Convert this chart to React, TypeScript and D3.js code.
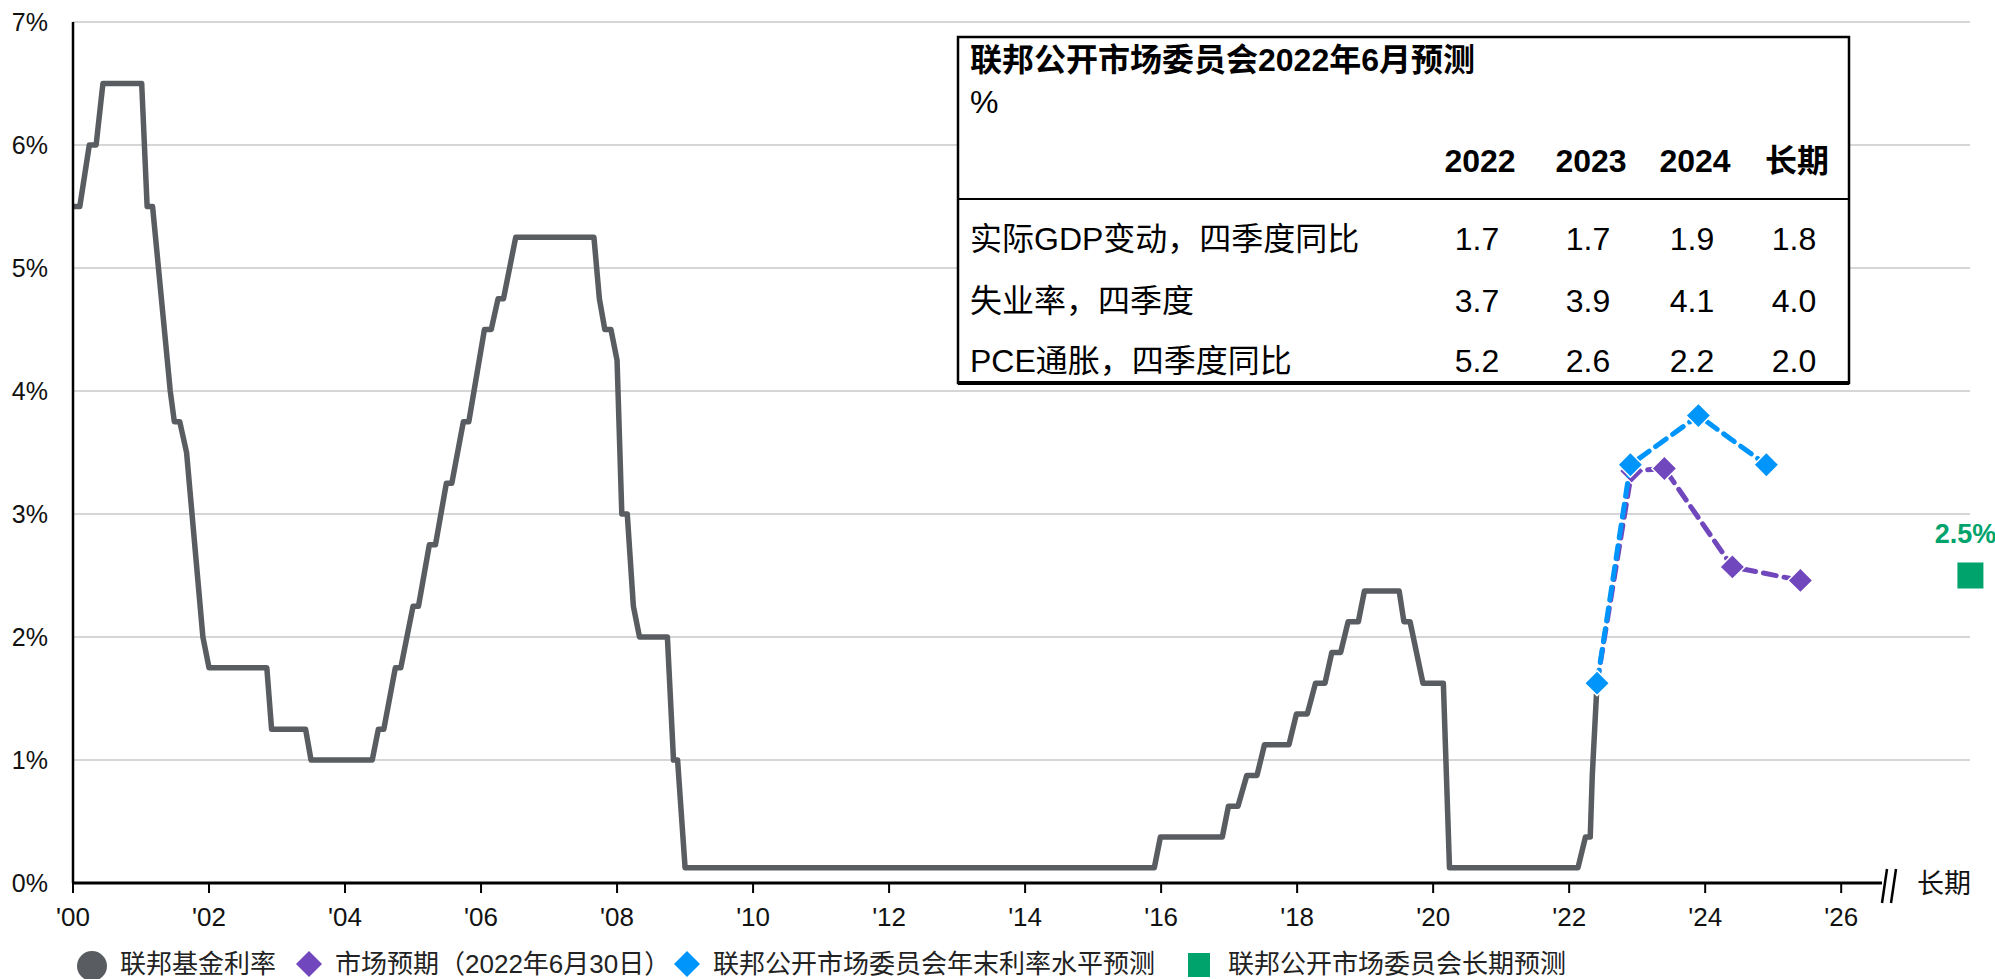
import { useEffect, useRef } from "react";
import * as d3 from "d3";

// Fed funds target (midpoint), corners, decimal years
const fedDates = [
  2000.0, 2000.1, 2000.24, 2000.34, 2000.44, 2001.01, 2001.09, 2001.17, 2001.43, 2001.49,
  2001.57, 2001.67, 2001.91, 2002.0, 2002.85, 2002.92, 2003.42, 2003.5, 2004.4, 2004.49,
  2004.57, 2004.74, 2004.82, 2005.0, 2005.08, 2005.24, 2005.33, 2005.49, 2005.57, 2005.74,
  2005.82, 2006.05, 2006.15, 2006.25, 2006.33, 2006.51, 2007.66, 2007.74, 2007.82, 2007.91,
  2008.0, 2008.07, 2008.15, 2008.24, 2008.33, 2008.74, 2008.83, 2008.89, 2009.0, 2015.9,
  2015.99, 2016.9, 2016.99, 2017.13, 2017.26, 2017.41, 2017.52, 2017.88, 2017.99, 2018.15,
  2018.27, 2018.41, 2018.51, 2018.64, 2018.75, 2018.9, 2018.99, 2019.5, 2019.57, 2019.66,
  2019.85, 2020.15, 2020.24, 2022.13, 2022.24, 2022.31, 2022.34, 2022.41,
];
const fedValues = [
  5.5, 5.5, 6.0, 6.0, 6.5, 6.5, 5.5, 5.5, 4.0, 3.75,
  3.75, 3.5, 2.0, 1.75, 1.75, 1.25, 1.25, 1.0, 1.0, 1.25,
  1.25, 1.75, 1.75, 2.25, 2.25, 2.75, 2.75, 3.25, 3.25, 3.75,
  3.75, 4.5, 4.5, 4.75, 4.75, 5.25, 5.25, 4.75, 4.5, 4.5,
  4.25, 3.0, 3.0, 2.25, 2.0, 2.0, 1.0, 1.0, 0.125, 0.125,
  0.375, 0.375, 0.625, 0.625, 0.875, 0.875, 1.125, 1.125, 1.375, 1.375,
  1.625, 1.625, 1.875, 1.875, 2.125, 2.125, 2.375, 2.375, 2.125, 2.125,
  1.625, 1.625, 0.125, 0.125, 0.375, 0.375, 0.875, 1.625,
];

// market expectations (as of 2022-06-30)
const marketDates = [2022.41, 2022.92, 2023.4, 2024.4, 2025.4];
const marketValues = [1.625, 3.35, 3.37, 2.57, 2.46];

// FOMC year-end dots
const fomcDates = [2022.41, 2022.9, 2023.9, 2024.9];
const fomcValues = [1.625, 3.4, 3.8, 3.4];

const longRunValue = 2.5;

const yTicks = [0, 1, 2, 3, 4, 5, 6, 7];
const xTicks = [2000, 2002, 2004, 2006, 2008, 2010, 2012, 2014, 2016, 2018, 2020, 2022, 2024, 2026];

const tableTitle = "联邦公开市场委员会2022年6月预测";
const tableUnit = "%";
const tableCols = ["2022", "2023", "2024", "长期"];
const tableRows = ["实际GDP变动，四季度同比", "失业率，四季度", "PCE通胀，四季度同比"];
const tableValues = [
  ["1.7", "1.7", "1.9", "1.8"],
  ["3.7", "3.9", "4.1", "4.0"],
  ["5.2", "2.6", "2.2", "2.0"],
];

const legendLabels = [
  "联邦基金利率",
  "市场预期（2022年6月30日）",
  "联邦公开市场委员会年末利率水平预测",
  "联邦公开市场委员会长期预测",
];

const GRAY = "#595c60";
const PURPLE = "#7047bc";
const BLUE = "#0095fb";
const GREEN = "#00a36c";
const FONT = "'Liberation Sans', Arial, 'Noto Sans CJK SC', sans-serif";

export default function App() {
  const ref = useRef<SVGSVGElement | null>(null);
  const width = 1995;
  const height = 979;

  useEffect(() => {
    if (!ref.current) return;
    const svg = d3.select(ref.current);
    svg.selectAll("*").remove();

    const x = d3.scaleLinear().domain([2000, 2026.6]).range([73, 1882]);
    const y = d3.scaleLinear().domain([0, 7]).range([883, 22]);
    const gridRight = 1970;

    const g = svg.append("g").attr("font-family", FONT);

    // gridlines
    g.selectAll("line.grid")
      .data(yTicks.filter((t) => t > 0))
      .join("line")
      .attr("x1", x(2000))
      .attr("x2", gridRight)
      .attr("y1", (d) => y(d))
      .attr("y2", (d) => y(d))
      .attr("stroke", "#d6d6d6")
      .attr("stroke-width", 2);

    // y labels
    g.selectAll("text.ylab")
      .data(yTicks)
      .join("text")
      .attr("x", 48)
      .attr("y", (d) => y(d))
      .attr("dy", "0.36em")
      .attr("text-anchor", "end")
      .attr("font-size", 25)
      .attr("fill", "#111")
      .text((d) => `${d}%`);

    // fed funds line
    const line = d3
      .line<number>()
      .x((_, i) => x(fedDates[i]))
      .y((d) => y(d));
    g.append("path")
      .attr("d", line(fedValues))
      .attr("fill", "none")
      .attr("stroke", GRAY)
      .attr("stroke-width", 5.5)
      .attr("stroke-linejoin", "round");

    // axes
    g.append("line")
      .attr("x1", x(2000))
      .attr("x2", x(2000))
      .attr("y1", y(7))
      .attr("y2", y(0))
      .attr("stroke", "#000")
      .attr("stroke-width", 2.5);
    g.append("line")
      .attr("x1", x(2000) - 1)
      .attr("x2", x.range()[1])
      .attr("y1", y(0))
      .attr("y2", y(0))
      .attr("stroke", "#000")
      .attr("stroke-width", 3);
    g.selectAll("line.xtick")
      .data(xTicks)
      .join("line")
      .attr("x1", (d) => x(d))
      .attr("x2", (d) => x(d))
      .attr("y1", y(0))
      .attr("y2", y(0) + 10)
      .attr("stroke", "#000")
      .attr("stroke-width", 2);
    g.selectAll("text.xlab")
      .data(xTicks)
      .join("text")
      .attr("x", (d) => x(d))
      .attr("y", y(0) + 43)
      .attr("text-anchor", "middle")
      .attr("font-size", 26)
      .attr("fill", "#111")
      .text((d) => `'${String(d).slice(2)}`);

    // axis break
    const xe = x.range()[1];
    [0, 9].forEach((o) => {
      g.append("line")
        .attr("x1", xe + o)
        .attr("y1", y(0) + 20)
        .attr("x2", xe + o + 5)
        .attr("y2", y(0) - 14)
        .attr("stroke", "#000")
        .attr("stroke-width", 2.5);
    });
    g.append("text")
      .attr("x", xe + 35)
      .attr("y", y(0))
      .attr("dy", "0.36em")
      .attr("font-size", 27)
      .attr("fill", "#111")
      .text("长期");

    // table
    const tb = { x: 958, y: 37, w: 891, h: 346 };
    const tfs = 32;
    g.append("rect")
      .attr("x", tb.x)
      .attr("y", tb.y)
      .attr("width", tb.w)
      .attr("height", tb.h)
      .attr("fill", "#fff")
      .attr("stroke", "#000")
      .attr("stroke-width", 2.5);
    g.append("line")
      .attr("x1", tb.x)
      .attr("x2", tb.x + tb.w)
      .attr("y1", tb.y + tb.h)
      .attr("y2", tb.y + tb.h)
      .attr("stroke", "#000")
      .attr("stroke-width", 4);
    g.append("line")
      .attr("x1", tb.x)
      .attr("x2", tb.x + tb.w)
      .attr("y1", 199)
      .attr("y2", 199)
      .attr("stroke", "#000")
      .attr("stroke-width", 2);
    g.append("text")
      .attr("x", 970)
      .attr("y", 71)
      .attr("font-size", tfs)
      .attr("font-weight", "bold")
      .attr("fill", "#000")
      .text(tableTitle);
    g.append("text")
      .attr("x", 970)
      .attr("y", 113)
      .attr("font-size", tfs)
      .attr("fill", "#000")
      .text(tableUnit);
    const colX = [1480, 1591, 1695, 1797];
    g.selectAll("text.colh")
      .data(tableCols)
      .join("text")
      .attr("x", (_, i) => colX[i])
      .attr("y", 172)
      .attr("text-anchor", "middle")
      .attr("font-size", tfs)
      .attr("font-weight", "bold")
      .attr("fill", "#000")
      .text((d) => d);
    const rowY = [250, 312, 372];
    tableRows.forEach((r, ri) => {
      g.append("text")
        .attr("x", 970)
        .attr("y", rowY[ri])
        .attr("font-size", tfs)
        .attr("fill", "#000")
        .text(r);
      tableValues[ri].forEach((v, ci) => {
        g.append("text")
          .attr("x", colX[ci] - 3)
          .attr("y", rowY[ri])
          .attr("text-anchor", "middle")
          .attr("font-size", tfs)
          .attr("fill", "#000")
          .text(v);
      });
    });

    // projection lines
    const dash = (dates: number[]) =>
      d3
        .line<number>()
        .x((_, i) => x(dates[i]))
        .y((d) => y(d));
    const diamond = (r: number) =>
      d3.symbol().type(d3.symbolSquare).size(2 * r * r)();

    g.append("path")
      .attr("d", dash(marketDates)(marketValues))
      .attr("fill", "none")
      .attr("stroke", PURPLE)
      .attr("stroke-width", 5)
      .attr("stroke-dasharray", "13 8")
      .attr("stroke-linecap", "round");
    g.selectAll("path.mk")
      .data(marketValues.slice(1))
      .join("path")
      .attr("d", diamond(12.5))
      .attr("transform", (d, i) => `translate(${x(marketDates[i + 1])},${y(d)}) rotate(45)`)
      .attr("fill", PURPLE)
      .attr("stroke", "#fff")
      .attr("stroke-width", 1.5);

    g.append("path")
      .attr("d", dash(fomcDates)(fomcValues))
      .attr("fill", "none")
      .attr("stroke", BLUE)
      .attr("stroke-width", 5)
      .attr("stroke-dasharray", "13 8")
      .attr("stroke-linecap", "round");
    g.selectAll("path.fo")
      .data(fomcValues)
      .join("path")
      .attr("d", diamond(12.5))
      .attr("transform", (d, i) => `translate(${x(fomcDates[i])},${y(d)}) rotate(45)`)
      .attr("fill", BLUE)
      .attr("stroke", "#fff")
      .attr("stroke-width", 1.5);

    // long-run
    const lrX = x(2027.9);
    g.append("rect")
      .attr("x", lrX - 13)
      .attr("y", y(longRunValue) - 13)
      .attr("width", 26)
      .attr("height", 26)
      .attr("fill", GREEN);
    g.append("text")
      .attr("x", lrX - 5)
      .attr("y", y(longRunValue) - 33)
      .attr("text-anchor", "middle")
      .attr("font-size", 27)
      .attr("font-weight", "bold")
      .attr("fill", GREEN)
      .text(`${longRunValue}%`);

    // legend
    const ly = 964;
    const lg = g.append("g").attr("font-size", 26).attr("fill", "#222");
    lg.append("circle").attr("cx", 92).attr("cy", ly + 2).attr("r", 15).attr("fill", GRAY);
    lg.append("path")
      .attr("d", diamond(13))
      .attr("transform", `translate(309,${ly}) rotate(45)`)
      .attr("fill", PURPLE);
    lg.append("path")
      .attr("d", diamond(13))
      .attr("transform", `translate(687,${ly}) rotate(45)`)
      .attr("fill", BLUE);
    lg.append("rect").attr("x", 1188).attr("y", ly - 11).attr("width", 22).attr("height", 24).attr("fill", GREEN);
    const lx = [120, 335, 713, 1228];
    legendLabels.forEach((t, i) => {
      lg.append("text").attr("x", lx[i]).attr("y", ly).attr("dy", "0.36em").text(t);
    });
  }, []);

  return (
    <svg
      ref={ref}
      width={width}
      height={height}
      style={{ position: "absolute", left: 0, top: 0, display: "block", background: "#fff" }}
    />
  );
}
